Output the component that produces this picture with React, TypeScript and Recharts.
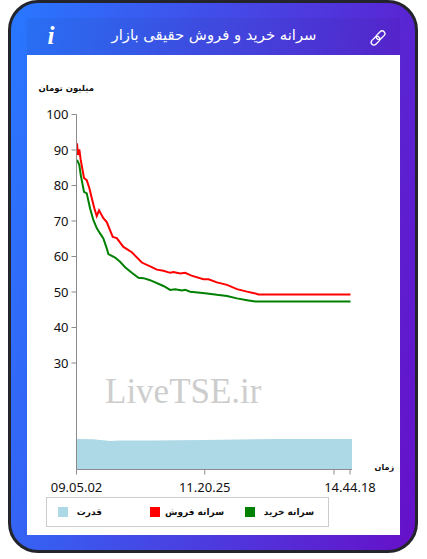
import { ComposedChart, Area, Line, XAxis, YAxis } from 'recharts';

// elapsed samples since the market opening, value in million toman
const sellSamples = [0.5, 1.5, 2.8, 4.2, 7.5, 10.2, 12.8, 15.2, 17.8, 20.2, 22.5, 26.8, 30.2, 36.2, 40.2, 46.8, 55.2, 65.2, 73.5, 80.2, 86.8, 93.5, 96.8, 103.5, 108.5, 114.7, 126.8, 131.8, 140.2, 150.2, 160.2, 170.2, 178.5, 181.5, 273.5];
const sellValues = [91.9, 88.6, 90.2, 87.2, 82.1, 81.5, 79.3, 76.5, 73.6, 71.4, 73, 70.8, 69.7, 65.5, 65.2, 62.7, 61.2, 58.3, 57.2, 56.3, 56, 55.4, 55.6, 55.2, 55.4, 54.6, 53.6, 53.6, 52.7, 52, 50.8, 50.1, 49.6, 49.3, 49.3];
const buySamples = [0.5, 2.8, 4.2, 7.5, 10.2, 13.5, 16.8, 20.2, 23.5, 26.8, 30.2, 31.8, 38.5, 43.5, 48.5, 55.2, 61.8, 66.8, 72.8, 86.8, 93.5, 98.5, 105.2, 108.5, 113.5, 123.5, 130.2, 140.2, 150.2, 160.2, 170.2, 178.5, 181.5, 273.5];
const buyValues = [87.2, 85.8, 83, 78.2, 77.8, 73.6, 70.3, 68, 66.5, 65.1, 62.3, 60.7, 59.7, 58.5, 57, 55.4, 54, 53.9, 53.4, 51.7, 50.6, 50.8, 50.4, 50.6, 50.1, 49.8, 49.6, 49.2, 48.9, 48.2, 47.7, 47.3, 47.3, 47.3];
const powerSamples = [0, 16.5, 33.5, 43.5, 76.5, 126.5, 200, 275];
const powerValues = [8.6, 8.5, 8, 8.2, 8.2, 8.3, 8.6, 8.6];

const yTicks = [30, 40, 50, 60, 70, 80, 90, 100];
const xTickSamples = [0, 128, 257, 273];
const xTickLabels = ['09.05.02', '11.20.25', '', '14.44.18'];

const sellData = sellSamples.map((sample, i) => ({ sample, value: sellValues[i] }));
const buyData = buySamples.map((sample, i) => ({ sample, value: buyValues[i] }));
const powerData = powerSamples.map((sample, i) => ({ sample, value: powerValues[i] }));

const faFont = '"DejaVu Sans", "Noto Sans", sans-serif';
const numFont = '"Noto Sans", sans-serif';
const axisColor = '#8c8c8c';

const legendItems = [
  { label: 'قدرت', color: '#add8e6', left: 58, textRight: 102 },
  { label: 'سرانه فروش', color: '#ff0000', left: 150, textRight: 224 },
  { label: 'سرانه خرید', color: '#008000', left: 245, textRight: 314 },
];

function Abs({ style, children }: { style: React.CSSProperties; children?: React.ReactNode }) {
  return <div style={{ position: 'absolute', whiteSpace: 'nowrap', ...style }}>{children}</div>;
}

export default function App() {
  return (
    <div style={{ position: 'absolute', left: 0, top: 0, width: 427, height: 559, overflow: 'hidden', background: '#fff' }}>
      <Abs
        style={{
          left: 8,
          top: 0,
          width: 410,
          height: 553,
          boxSizing: 'border-box',
          border: '3px solid #24242c',
          borderRadius: 30,
          background: 'linear-gradient(100deg, #2878ff 0%, #6610c8 100%)',
        }}
      />
      <Abs style={{ left: 27, top: 18, width: 373, height: 37, background: 'rgba(0,0,0,0.04)' }} />
      <Abs
        style={{
          left: 44,
          top: 22,
          width: 14,
          textAlign: 'center',
          color: '#fff',
          fontFamily: '"Liberation Serif", serif',
          fontStyle: 'italic',
          fontWeight: 700,
          fontSize: 25,
          lineHeight: '28px',
        }}
      >
        i
      </Abs>
      <Abs
        style={{
          left: 64,
          top: 23,
          width: 300,
          textAlign: 'center',
          color: '#fff',
          fontFamily: faFont,
          fontSize: 14.8,
          lineHeight: '24px',
          direction: 'rtl',
        }}
      >
        سرانه خرید و فروش حقیقی بازار
      </Abs>
      <svg style={{ position: 'absolute', left: 369, top: 29 }} width={18} height={18} viewBox="0 0 18 18" fill="none" stroke="#fff" strokeWidth={1.3}>
        <rect x={1.5} y={9} width={10} height={5.5} rx={2.75} transform="rotate(-45 6.5 11.75)" />
        <rect x={6.5} y={3.5} width={10} height={5.5} rx={2.75} transform="rotate(-45 11.5 6.25)" />
      </svg>
      <Abs style={{ left: 27, top: 55, width: 373, height: 480, background: '#fff' }}>
        <ComposedChart width={373} height={480} margin={{ top: 59.5, right: 48, bottom: 0, left: 0 }}>
          <XAxis
            dataKey="sample"
            type="number"
            domain={[0, 275]}
            ticks={xTickSamples}
            interval={0}
            height={65.5}
            tickFormatter={(v: number) => xTickLabels[xTickSamples.indexOf(v)]}
            stroke={axisColor}
            tickSize={5}
            tickMargin={8}
            tick={{ fontFamily: numFont, fontSize: 13, fill: '#111' }}
          />
          <YAxis
            type="number"
            domain={[0, 100]}
            ticks={yTicks}
            interval={0}
            width={49.5}
            stroke={axisColor}
            tickSize={5}
            tickMargin={3}
            tick={{ fontFamily: numFont, fontSize: 13, fill: '#111' }}
          />
          <Area data={powerData} dataKey="value" type="linear" fill="#add8e6" fillOpacity={1} stroke="none" dot={false} isAnimationActive={false} />
          <Line data={sellData} dataKey="value" type="linear" stroke="#ff0000" strokeWidth={2} dot={false} isAnimationActive={false} />
          <Line data={buyData} dataKey="value" type="linear" stroke="#008000" strokeWidth={2} dot={false} isAnimationActive={false} />
        </ComposedChart>
      </Abs>
      <Abs style={{ left: 105, top: 372, color: '#cdcdcd', fontFamily: '"Liberation Serif", serif', fontSize: 35, lineHeight: '40px' }}>LiveTSE.ir</Abs>
      <Abs style={{ right: 427 - 94, top: 81, fontFamily: faFont, fontWeight: 700, fontSize: 8.5, lineHeight: '14px', color: '#111', direction: 'rtl' }}>میلیون تومان</Abs>
      <Abs style={{ right: 427 - 394, top: 461, fontFamily: faFont, fontWeight: 700, fontSize: 8, lineHeight: '14px', color: '#111', direction: 'rtl' }}>زمان</Abs>
      <Abs style={{ left: 46, top: 497, width: 283, height: 30, boxSizing: 'border-box', border: '1px solid #cccccc' }} />
      {legendItems.map((item) => (
        <div key={item.label}>
          <Abs style={{ left: item.left, top: 507, width: 10, height: 10, background: item.color }} />
          <Abs style={{ right: 427 - item.textRight, top: 505, fontFamily: faFont, fontWeight: 700, fontSize: 9, lineHeight: '14px', color: '#111', direction: 'rtl' }}>
            {item.label}
          </Abs>
        </div>
      ))}
    </div>
  );
}
